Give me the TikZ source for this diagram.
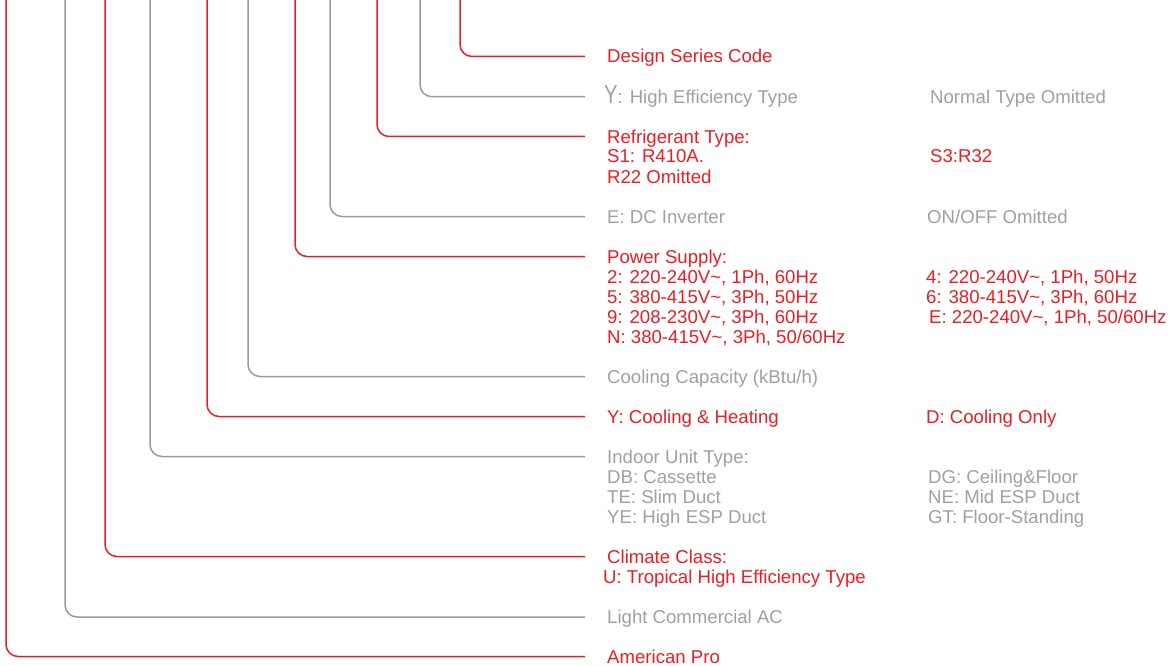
\documentclass[tikz,border=0pt]{standalone}
\usepackage{fontspec}
\setmainfont{Liberation Sans}
\usepackage{graphicx}
\definecolor{myred}{HTML}{ED1C24}
\definecolor{mygray}{HTML}{A0A0A3}
\definecolor{linegray}{HTML}{9B9B9E}
\newcommand\mystack[1]{\vtop{\baselineskip=20pt\lineskiplimit=-20pt\relax #1}}
\begin{document}
\begin{tikzpicture}[x=1pt,y=-1pt,
  lbl/.style={anchor=base west, inner sep=0pt, font=\fontsize{18.6}{20}\selectfont},
  rtxt/.style={lbl, text=myred},
  gtxt/.style={lbl, text=mygray},
  rline/.style={draw=myred, line width=1.5pt, rounded corners=12pt},
  gline/.style={draw=linegray, line width=1.5pt, rounded corners=12pt}]
\useasboundingbox (0,0) rectangle (1175,666);

% start coordinates (top edge)
\coordinate (s1) at (460,0);
\coordinate (s2) at (420,0);
\coordinate (s3) at (377,0);
\coordinate (s4) at (330,0);
\coordinate (s5) at (295,0);
\coordinate (s6) at (248,0);
\coordinate (s7) at (207,0);
\coordinate (s8) at (150,0);
\coordinate (s9) at (105,0);
\coordinate (s10) at (65,0);
\coordinate (s11) at (6,0);
% end coordinates
\coordinate (e1) at (585,56.5);
\coordinate (e2) at (585,96.7);
\coordinate (e3) at (585,136.5);
\coordinate (e4) at (585,216.5);
\coordinate (e5) at (585,256.5);
\coordinate (e6) at (585,376.5);
\coordinate (e7) at (585,416.5);
\coordinate (e8) at (585,456.5);
\coordinate (e9) at (585,556.5);
\coordinate (e10) at (585,617);
\coordinate (e11) at (585,656.5);

\draw[rline] (s1) |- (e1);
\draw[gline] (s2) |- (e2);
\draw[rline] (s3) |- (e3);
\draw[gline] (s4) |- (e4);
\draw[rline] (s5) |- (e5);
\draw[gline] (s6) |- (e6);
\draw[rline] (s7) |- (e7);
\draw[gline] (s8) |- (e8);
\draw[rline] (s9) |- (e9);
\draw[gline] (s10) |- (e10);
\draw[rline] (s11) |- (e11);

% left column texts
\node[rtxt] (t1) at (607,63) {Design Series Code};
\node[gtxt] (t2) at (604,103.2) {{\fontsize{26}{20}\selectfont\scalebox{0.78}[1]{Y}}: High Efficiency Type};
\node[rtxt] (t3) at (607,143) {\mystack{\hbox{Refrigerant Type:}\hbox{S1: R410A.}\hbox{R22 Omitted}}};
\node[gtxt] (t4) at (607,223) {E: DC Inverter};
\node[rtxt] (t5) at (607,263) {\mystack{\hbox{Power Supply:}\hbox{2: 220-240V\textasciitilde, 1Ph, 60Hz}\hbox{5: 380-415V\textasciitilde, 3Ph, 50Hz}\hbox{9: 208-230V\textasciitilde, 3Ph, 60Hz}\hbox{N: 380-415V\textasciitilde, 3Ph, 50/60Hz}}};
\node[gtxt] (t6) at (607,383) {Cooling Capacity (kBtu/h)};
\node[rtxt] (t7) at (607,423) {Y: Cooling \& Heating};
\node[gtxt] (t8) at (607,463) {\mystack{\hbox{Indoor Unit Type:}\hbox{DB: Cassette}\hbox{TE: Slim Duct}\hbox{YE: High ESP Duct}}};
\node[rtxt] (t9) at (607,563) {Climate Class:};
\node[rtxt] (t9b) at (603,583) {U: Tropical High Efficiency Type};
\node[gtxt] (t10) at (607,623.5) {Light Commercial AC};
\node[rtxt] (t11) at (607,663) {American Pro};

% right column texts
\node[gtxt] (r2) at (930,103.2) {Normal Type Omitted};
\node[rtxt] (r3) at (930,163) {S3:R32};
\node[gtxt] (r4) at (927,223) {ON/OFF Omitted};
\node[rtxt] (r5) at (926,283) {\mystack{\hbox{4: 220-240V\textasciitilde, 1Ph, 50Hz}\hbox{6: 380-415V\textasciitilde, 3Ph, 60Hz}}};
\node[rtxt] (r5b) at (929,323) {E: 220-240V\textasciitilde, 1Ph, 50/60Hz};
\node[rtxt] (r7) at (926,423) {D: Cooling Only};
\node[gtxt] (r8) at (928,483) {\mystack{\hbox{DG: Ceiling\&Floor}\hbox{NE: Mid ESP Duct}\hbox{GT: Floor-Standing}}};
\end{tikzpicture}
\end{document}
